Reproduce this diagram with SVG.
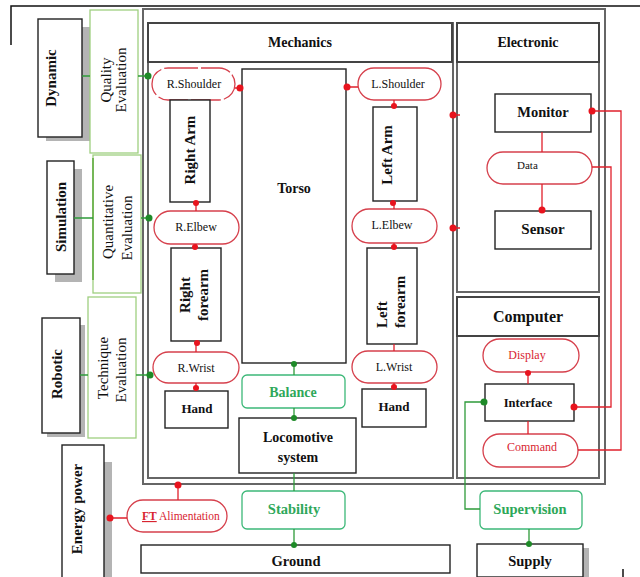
<svg xmlns="http://www.w3.org/2000/svg" width="640" height="577" viewBox="0 0 640 577">
<defs>
<style>
.page{fill:none;stroke:#111;stroke-width:1.5}
.frame{fill:none;stroke:#666;stroke-width:2}
.hdr{fill:#fff;stroke:#444;stroke-width:2}
.box{fill:#fff;stroke:#222;stroke-width:1.4}
.shadow{fill:#b4b4b4}
.pill{fill:#fff;stroke:#d6404c;stroke-width:1.3}
.gbox{fill:#fff;stroke:#3cb878;stroke-width:1.3}
.eval{fill:#fff;stroke:#9fcf80;stroke-width:1.3}
.rl{fill:none;stroke:#e0202c;stroke-width:1.3}
.gl{fill:none;stroke:#2e9a3a;stroke-width:1.3}
.rd{fill:#e8141e}
.gd{fill:#1e8a28}
text{font-family:"Liberation Serif","Times New Roman",serif;fill:#111}
.b{font-weight:bold}
.c{text-anchor:middle}
.pt{font-size:12px;text-anchor:middle}
.rt{fill:#d82430}
.gt{fill:#2ea85a;font-weight:bold;text-anchor:middle}
</style>
</defs>

<!-- page border -->
<path class="page" d="M11,45 V6 H640"/>
<line x1="623" y1="569" x2="623" y2="577" stroke="#111" stroke-width="1.5"/>

<!-- frames -->
<g id="frames">
<rect class="frame" x="143" y="9" width="462" height="475"/>
<rect class="frame" x="148" y="23" width="305" height="455"/>
<rect class="frame" x="457" y="23" width="142" height="269"/>
<rect class="frame" x="457" y="297" width="142" height="181"/>
</g>

<g id="mechanics">
<rect class="hdr" x="148" y="23" width="304" height="39"/>
<text class="b c" x="300" y="47" font-size="14">Mechanics</text>
</g>
<g id="electronic">
<rect class="hdr" x="457" y="23" width="142" height="39"/>
<text class="b c" x="528" y="47" font-size="14">Electronic</text>
</g>
<g id="computer">
<rect class="hdr" x="457" y="297" width="142" height="39"/>
<text class="b c" x="528" y="322" font-size="16">Computer</text>
</g>

<!-- left column -->
<g id="dynamic">
<rect class="shadow" x="46" y="27" width="44" height="114"/>
<rect class="box" x="38" y="19" width="44" height="118"/>
<text class="b c" transform="translate(56,78) rotate(-90)" font-size="15">Dynamic</text>
</g>
<g id="quality">
<rect class="eval" x="90" y="10" width="48" height="143"/>
<text class="c" transform="translate(111,80) rotate(-90)" font-size="15">Quality</text>
<text class="c" transform="translate(126,80) rotate(-90)" font-size="15">Evaluation</text>
</g>
<g id="simulation">
<rect class="shadow" x="55" y="169" width="27" height="113"/>
<rect class="box" x="47" y="161" width="27" height="113"/>
<text class="b c" transform="translate(66,217) rotate(-90)" font-size="15">Simulation</text>
</g>
<g id="quantitative">
<rect class="eval" x="93" y="155" width="48" height="138"/>
<line x1="93" y1="158" x2="93" y2="280" stroke="#5caa3c" stroke-width="1.5"/>
<text class="c" transform="translate(113,222) rotate(-90)" font-size="15">Quantitative</text>
<text class="c" transform="translate(132,228) rotate(-90)" font-size="15">Evaluation</text>
</g>
<g id="robotic">
<rect class="shadow" x="47" y="325" width="38" height="112"/>
<rect class="box" x="42" y="318" width="38" height="115"/>
<text class="b c" transform="translate(62,374) rotate(-90)" font-size="15">Robotic</text>
</g>
<g id="technique">
<rect class="eval" x="88" y="297" width="48" height="141"/>
<text class="c" transform="translate(108,368) rotate(-90)" font-size="15">Technique</text>
<text class="c" transform="translate(126,370) rotate(-90)" font-size="15">Evaluation</text>
</g>
<g id="energy">
<rect class="shadow" x="104" y="462" width="8" height="115"/>
<rect class="box" x="62" y="445" width="42" height="133"/>
<text class="b c" transform="translate(82,509) rotate(-90)" font-size="15">Energy power</text>
</g>
<g id="ft-alimentation">
<rect class="pill" x="127" y="500" width="100" height="32" rx="16"/>
<text x="142" y="520" font-size="11.5" class="rt"><tspan font-weight="bold" text-decoration="underline">FT</tspan> Alimentation</text>
</g>

<!-- mechanics nodes -->
<g id="r-shoulder">
<rect class="pill" x="152" y="68" width="83" height="32" rx="16" stroke-dasharray="30 3"/>
<text class="pt" x="194" y="88">R.Shoulder</text>
</g>
<g id="right-arm">
<rect class="box" x="170" y="100" width="40" height="102"/>
<text class="b c" transform="translate(195,150) rotate(-90)" font-size="15">Right Arm</text>
</g>
<g id="r-elbew">
<rect class="pill" x="154" y="211" width="85" height="33" rx="16.5"/>
<text class="pt" x="196" y="231">R.Elbew</text>
</g>
<g id="right-forearm">
<rect class="box" x="171" y="248" width="50" height="93"/>
<text class="b c" transform="translate(190,295) rotate(-90)" font-size="15">Right</text>
<text class="b c" transform="translate(208,295) rotate(-90)" font-size="15">forearm</text>
</g>
<g id="r-wrist">
<rect class="pill" x="153" y="352" width="86" height="31" rx="15.5"/>
<text class="pt" x="196" y="372">R.Wrist</text>
</g>
<g id="r-hand">
<rect class="box" x="165" y="391" width="63" height="37"/>
<text class="b c" x="197" y="413" font-size="13">Hand</text>
</g>
<g id="torso">
<rect class="box" x="242" y="69" width="104" height="294"/>
<text class="b c" x="294" y="193" font-size="14">Torso</text>
</g>
<g id="l-shoulder">
<rect class="pill" x="358" y="68" width="83" height="32" rx="16"/>
<text class="pt" x="398" y="88">L.Shoulder</text>
</g>
<g id="left-arm">
<rect class="box" x="373" y="107" width="44" height="94"/>
<text class="b c" transform="translate(392,155) rotate(-90)" font-size="15">Left Arm</text>
</g>
<g id="l-elbew">
<rect class="pill" x="352" y="209" width="85" height="34" rx="17"/>
<text class="pt" x="392" y="229">L.Elbew</text>
</g>
<g id="left-forearm">
<rect class="box" x="367" y="248" width="50" height="96"/>
<text class="b" transform="translate(387,328) rotate(-90)" font-size="15">Left</text>
<text class="b" transform="translate(405,328) rotate(-90)" font-size="15">forearm</text>
</g>
<g id="l-wrist">
<rect class="pill" x="352" y="351" width="85" height="32" rx="16"/>
<text class="pt" x="394" y="371">L.Wrist</text>
</g>
<g id="l-hand">
<rect class="box" x="362" y="389" width="64" height="38"/>
<text class="b c" x="394" y="411" font-size="13">Hand</text>
</g>
<g id="balance">
<rect class="gbox" x="242" y="375" width="103" height="33" rx="5"/>
<text class="gt" x="293" y="397" font-size="14">Balance</text>
</g>
<g id="locomotive">
<rect class="box" x="239" y="418" width="117" height="55"/>
<text class="b c" x="298" y="442" font-size="14">Locomotive</text>
<text class="b c" x="298" y="462" font-size="14">system</text>
</g>
<g id="stability">
<rect class="gbox" x="242" y="491" width="103" height="38" rx="5"/>
<text class="gt" x="294" y="514" font-size="14.5">Stability</text>
</g>
<g id="ground">
<rect class="box" x="141" y="545" width="309" height="28"/>
<text class="b c" x="296" y="566" font-size="14.5">Ground</text>
</g>

<!-- electronic nodes -->
<g id="monitor">
<rect class="box" x="495" y="94" width="96" height="38"/>
<text class="b c" x="543" y="117" font-size="14.5">Monitor</text>
</g>
<g id="data">
<rect class="pill" x="487" y="152" width="105" height="32" rx="16"/>
<text x="517" y="169" font-size="11">Data</text>
</g>
<g id="sensor">
<rect class="box" x="495" y="211" width="96" height="38"/>
<text class="b c" x="543" y="234" font-size="15">Sensor</text>
</g>
<g id="display">
<rect class="pill" x="483" y="339" width="96" height="33" rx="16.5"/>
<text class="pt rt" x="527" y="359">Display</text>
</g>
<g id="interface">
<rect class="box" x="485" y="384" width="89" height="37"/>
<text class="b c" x="528" y="407" font-size="12.5">Interface</text>
</g>
<g id="command">
<rect class="pill" x="483" y="434" width="95" height="33" rx="16.5"/>
<text class="pt rt" x="532" y="451">Command</text>
</g>
<g id="supervision">
<rect class="gbox" x="480" y="491" width="102" height="38" rx="5"/>
<text class="gt" x="530" y="514" font-size="14.5">Supervision</text>
</g>
<g id="supply">
<rect class="shadow" x="583" y="548" width="6" height="29"/>
<rect class="box" x="477" y="544" width="106" height="33"/>
<text class="b c" x="530" y="566" font-size="14.5">Supply</text>
</g>

<!-- connectors -->
<g id="connectors">
<!-- green -->
<path class="gl" d="M82,76 H90 M138,76 H148 M74,218 H93 M141,218 H149 M80,375 H88 M136,375 H150"/>
<path class="gl" d="M294,363 V375 M294,408 V418 M294,473 V491 M294,529 V545"/>
<path class="gl" d="M485,402 H465 V509 H480 M529,529 V544"/>
<circle class="gd" cx="148" cy="76" r="3.5"/>
<circle class="gd" cx="149" cy="218" r="3.5"/>
<circle class="gd" cx="150" cy="375" r="3.5"/>
<circle class="gd" cx="294" cy="364" r="3"/>
<circle class="gd" cx="294" cy="418" r="3"/>
<circle class="gd" cx="294" cy="545" r="3"/>
<circle class="gd" cx="484" cy="402" r="3.5"/>
<circle class="gd" cx="529" cy="544" r="3"/>
<!-- red -->
<path class="rl" d="M235,88 H242 M346,87 H358"/>
<path class="rl" d="M196,202 V211 M196,244 V248 M196,341 V352 M196,383 V391"/>
<path class="rl" d="M394,100 V107 M394,201 V209 M394,243 V248 M394,344 V351 M394,383 V389"/>
<path class="rl" d="M542,132 V152 M542,184 V211 M528,372 V384 M528,421 V434"/>
<path class="rl" d="M453,115 H460 M453,228 H460"/>
<path class="rl" d="M591,111 H621 V450 H578 M592,167 H611 V407 H574"/>
<path class="rl" d="M110,518 H127 M178,485 V500"/>
<circle class="rd" cx="240" cy="88" r="3.5"/>
<circle class="rd" cx="347" cy="87" r="3.5"/>
<circle class="rd" cx="196" cy="203" r="3"/>
<circle class="rd" cx="195" cy="247" r="3"/>
<circle class="rd" cx="197" cy="343" r="3"/>
<circle class="rd" cx="196" cy="388" r="3"/>
<circle class="rd" cx="394" cy="106" r="3"/>
<circle class="rd" cx="393" cy="203" r="3"/>
<circle class="rd" cx="394" cy="247" r="3"/>
<circle class="rd" cx="394" cy="387" r="3"/>
<circle class="rd" cx="453" cy="115" r="3.5"/>
<circle class="rd" cx="453" cy="228" r="3.5"/>
<circle class="rd" cx="542" cy="210" r="3.5"/>
<circle class="rd" cx="592" cy="111" r="3.5"/>
<circle class="rd" cx="528" cy="373" r="3"/>
<circle class="rd" cx="574" cy="407" r="3.5"/>
<circle class="rd" cx="110" cy="518" r="3.5"/>
<circle class="rd" cx="178" cy="485" r="3.5"/>
</g>
</svg>
